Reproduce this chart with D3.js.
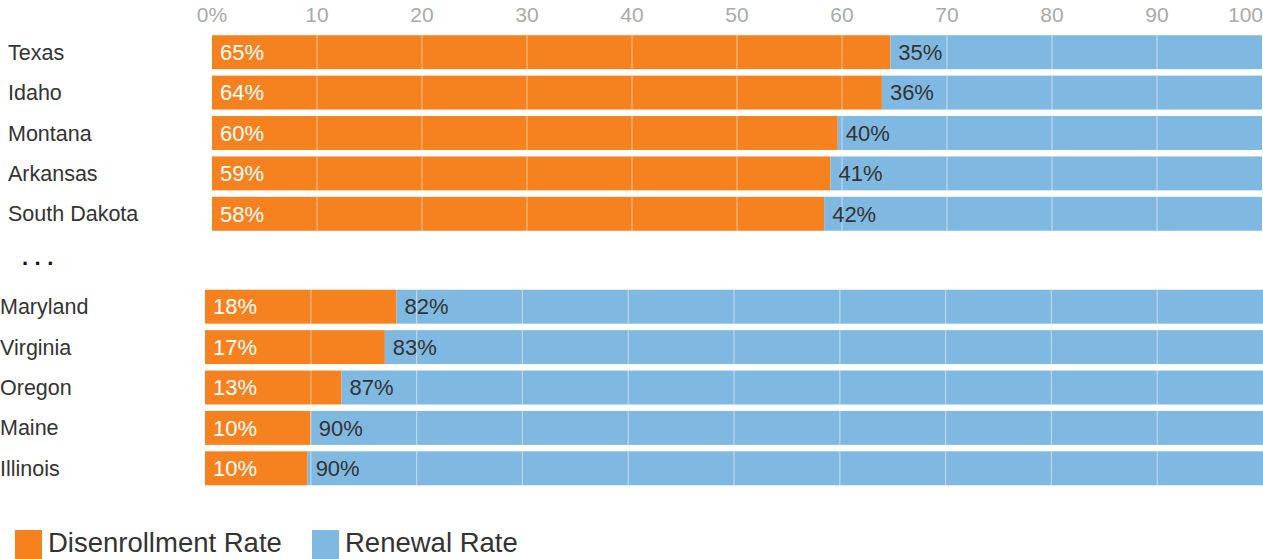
<!DOCTYPE html>
<html><head><meta charset="utf-8">
<script src="https://cdn.jsdelivr.net/npm/d3@7"></script>
<style>body{margin:0;background:#fff;overflow:hidden}text{font-family:"Liberation Sans",Arial,sans-serif}</style>
</head><body>
<svg id="c" width="1263" height="559"></svg>
<script>
const topStates = ["Texas","Idaho","Montana","Arkansas","South Dakota"];
const topDisenroll = [64.6,63.8,59.6,58.9,58.3];
const topRenew = [35.4,36.2,40.4,41.1,41.7];
const bottomStates = ["Maryland","Virginia","Oregon","Maine","Illinois"];
const bottomDisenroll = [18.1,17.0,12.9,10.0,9.7];
const bottomRenew = [81.9,83.0,87.1,90.0,90.3];
const ticks = [0,10,20,30,40,50,60,70,80,90,100];
const tickLabels = ["0%","10","20","30","40","50","60","70","80","90","100"];
const seriesNames = ["Disenrollment Rate","Renewal Rate"];
const colors = ["#f5821f","#7fb9e1"];

const svg = d3.select("#c");
const fmt = v => Math.round(v) + "%";

function panel(states, dis, ren, x0, x1, y0, labelX) {
  const x = d3.scaleLinear().domain([0,100]).range([x0,x1]);
  const y = d3.scaleBand().domain(states).range([y0, y0 + 40.4*states.length]).paddingInner(0.16).paddingOuter(0.08);
  const g = svg.append("g");
  states.forEach((s,i) => {
    g.append("rect").attr("x", x(0)).attr("y", y(s)).attr("width", x(dis[i]) - x(0)).attr("height", y.bandwidth()).attr("fill", colors[0]);
    g.append("rect").attr("x", x(dis[i])).attr("y", y(s)).attr("width", x(dis[i]+ren[i]) - x(dis[i])).attr("height", y.bandwidth()).attr("fill", colors[1]);
  });
  states.forEach((s) => {
    g.selectAll(null).data(ticks.slice(1,-1)).enter().append("line")
      .attr("x1", d => x(d)).attr("x2", d => x(d))
      .attr("y1", y(s)).attr("y2", y(s)+y.bandwidth())
      .attr("stroke", "#fff").attr("stroke-opacity", 0.45).attr("stroke-width", 1.2);
  });
  states.forEach((s,i) => {
    const cy = y(s) + y.bandwidth()/2;
    g.append("text").attr("x", labelX).attr("y", cy).attr("dy","0.35em").attr("font-size",21.5).attr("fill","#333").text(s);
    g.append("text").attr("x", x(0)+8).attr("y", cy).attr("dy","0.35em").attr("font-size",22).attr("fill","#fff").text(fmt(dis[i]));
    g.append("text").attr("x", x(dis[i])+8).attr("y", cy).attr("dy","0.35em").attr("font-size",22).attr("fill","#333").text(fmt(ren[i]));
  });
  return x;
}

const xTop = panel(topStates, topDisenroll, topRenew, 212, 1262, 32, 8);
panel(bottomStates, bottomDisenroll, bottomRenew, 205, 1263, 286.5, 0);

svg.append("g").selectAll("text").data(ticks).enter().append("text")
  .attr("x", d => d === 100 ? 1263 : xTop(d))
  .attr("y", 22)
  .attr("text-anchor", d => d === 100 ? "end" : "middle")
  .attr("font-size", 21).attr("fill", "#aaa")
  .text((d,i) => tickLabels[i]);

svg.append("text").attr("x", 22).attr("y", 265).attr("font-size", 22).attr("letter-spacing", 6.5).attr("fill", "#111").attr("font-weight","bold").text("...");

const leg = svg.append("g");
const legX = [15, 312];
seriesNames.forEach((n,i) => {
  leg.append("rect").attr("x", legX[i]).attr("y", 530).attr("width", 27).attr("height", 29).attr("fill", colors[i]);
  leg.append("text").attr("x", legX[i]+33).attr("y", 552).attr("font-size", 27.5).attr("fill", "#333").text(n);
});
</script>
</body></html>
